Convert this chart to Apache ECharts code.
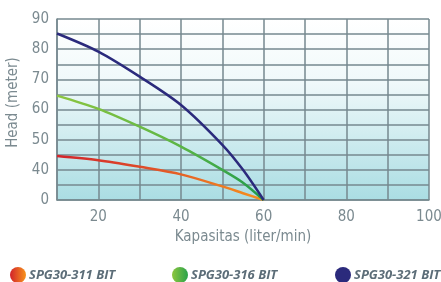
<!DOCTYPE html>
<html><head><meta charset="utf-8">
<script src="https://cdn.jsdelivr.net/npm/echarts@6/dist/echarts.min.js"></script>
<style>html,body{margin:0;padding:0;background:#fff}#c{width:441px;height:282px}</style>
</head><body><div id="c"></div>
<script>
// Data (flow in liter/min, head in meter)
var flow = [10, 20, 30, 40, 50, 55, 60];
var spg311 = [44.6, 43.2, 41.0, 34.0, 18.0, 9.0, 0];
var spg316 = [64.6, 60.2, 54.3, 47.7, 40.0, 23.0, 0];
var spg321 = [85.2, 79.2, 70.9, 61.5, 48.3, 40.0, 0];
var seriesNames = ['SPG30-311 BIT', 'SPG30-316 BIT', 'SPG30-321 BIT'];
var yTickLabels = [0, 40, 50, 60, 70, 80, 90];
var xTickLabels = [20, 40, 60, 80, 100];

// piecewise head scale: 0-40 compressed into two grid steps, then 5 m per step
function toAxis(v) { return v <= 40 ? v / 20 : 2 + (v - 40) / 5; }
function fromAxis(u) { return u <= 2 ? u * 20 : 40 + (u - 2) * 5; }

function pts(vals) { return flow.map(function (x, i) { return [x, toAxis(vals[i])]; }); }

var G = echarts.graphic.LinearGradient;
var redGrad = new G(0, 0, 1, 0, [{offset: 0, color: '#d2232a'}, {offset: 0.4, color: '#dd4a2a'}, {offset: 1, color: '#f7941d'}]);
var greenGrad = new G(0, 0, 1, 0, [{offset: 0, color: '#8dc63f'}, {offset: 0.6, color: '#5bb546'}, {offset: 1, color: '#1e9a4b'}]);
var blueCol = '#2b2a7c';
var lgRed = new G(0, 0, 1, 0, [{offset: 0, color: '#d2232a'}, {offset: 1, color: '#f7941d'}]);
var lgGreen = new G(0, 0, 1, 0, [{offset: 0, color: '#8dc63f'}, {offset: 1, color: '#2aa24a'}]);

var font = '"DejaVu Sans Condensed","Liberation Sans Narrow","Roboto Condensed",sans-serif';
var txtCol = '#7b8a90';
var gridCol = '#76898f';

var chart = echarts.init(document.getElementById('c'), null, {renderer: 'canvas'});
function legendAt(left, name, col) {
  return {
    left: left, top: 262, icon: 'circle', itemWidth: 16, itemHeight: 16, itemGap: 0,
    data: [{name: name, itemStyle: {color: col}}],
    textStyle: {fontFamily: '"Open Sans",sans-serif', fontStyle: 'italic', fontWeight: 'bold', fontSize: 13, color: '#5c6d78', padding: [0, 0, 0, -2]},
    selectedMode: false
  };
}
chart.setOption({
  animation: false,
  legend: [legendAt(5, seriesNames[0], lgRed), legendAt(167, seriesNames[1], lgGreen), legendAt(330, seriesNames[2], blueCol)],
  grid: {
    left: 57, right: 12, top: 19, bottom: 82, show: true, borderWidth: 0,
    containLabel: false, outerBoundsMode: 'none',
    backgroundColor: new G(0, 0, 0, 1, [{offset: 0, color: '#ffffff'}, {offset: 0.35, color: '#f0f9fa'}, {offset: 1, color: '#aadde3'}])
  },
  xAxis: {
    type: 'value', min: 10, max: 100, interval: 10,
    name: 'Kapasitas (liter/min)', nameLocation: 'middle', nameGap: 30,
    nameTextStyle: {fontFamily: font, fontSize: 15, color: txtCol},
    axisLine: {show: true, lineStyle: {color: gridCol, width: 1.5}},
    axisTick: {show: false},
    axisLabel: {
      fontFamily: font, fontSize: 15, color: txtCol, margin: 10,
      formatter: function (v) { return xTickLabels.indexOf(v) >= 0 ? String(v) : ''; }
    },
    splitLine: {show: true, lineStyle: {color: gridCol, width: 1.5}}
  },
  yAxis: {
    type: 'value', min: 0, max: 12, interval: 1,
    name: 'Head (meter)', nameLocation: 'middle', nameGap: 34, nameRotate: 90,
    nameTextStyle: {fontFamily: font, fontSize: 15, color: txtCol, padding: [0, 0, 0, 14]},
    axisLine: {show: true, lineStyle: {color: gridCol, width: 1.5}},
    axisTick: {show: false},
    axisLabel: {
      fontFamily: font, fontSize: 15, color: txtCol, margin: 8,
      formatter: function (u) { var v = Math.round(fromAxis(u)); return (u % 2 === 0 && yTickLabels.indexOf(v) >= 0) ? String(v) : ''; }
    },
    splitLine: {show: true, lineStyle: {color: gridCol, width: 1.5}}
  },
  series: [
    {name: seriesNames[0], type: 'line', data: pts(spg311), smooth: 0.3, showSymbol: false, lineStyle: {width: 2.5, color: redGrad}, itemStyle: {color: '#e0552a'}, z: 3},
    {name: seriesNames[1], type: 'line', data: pts(spg316), smooth: 0.3, showSymbol: false, lineStyle: {width: 2.5, color: greenGrad}, itemStyle: {color: '#6abb45'}, z: 4},
    {name: seriesNames[2], type: 'line', data: pts(spg321), smooth: 0.3, showSymbol: false, lineStyle: {width: 2.5, color: blueCol}, itemStyle: {color: blueCol}, z: 5}
  ]
});
</script>
</body></html>
